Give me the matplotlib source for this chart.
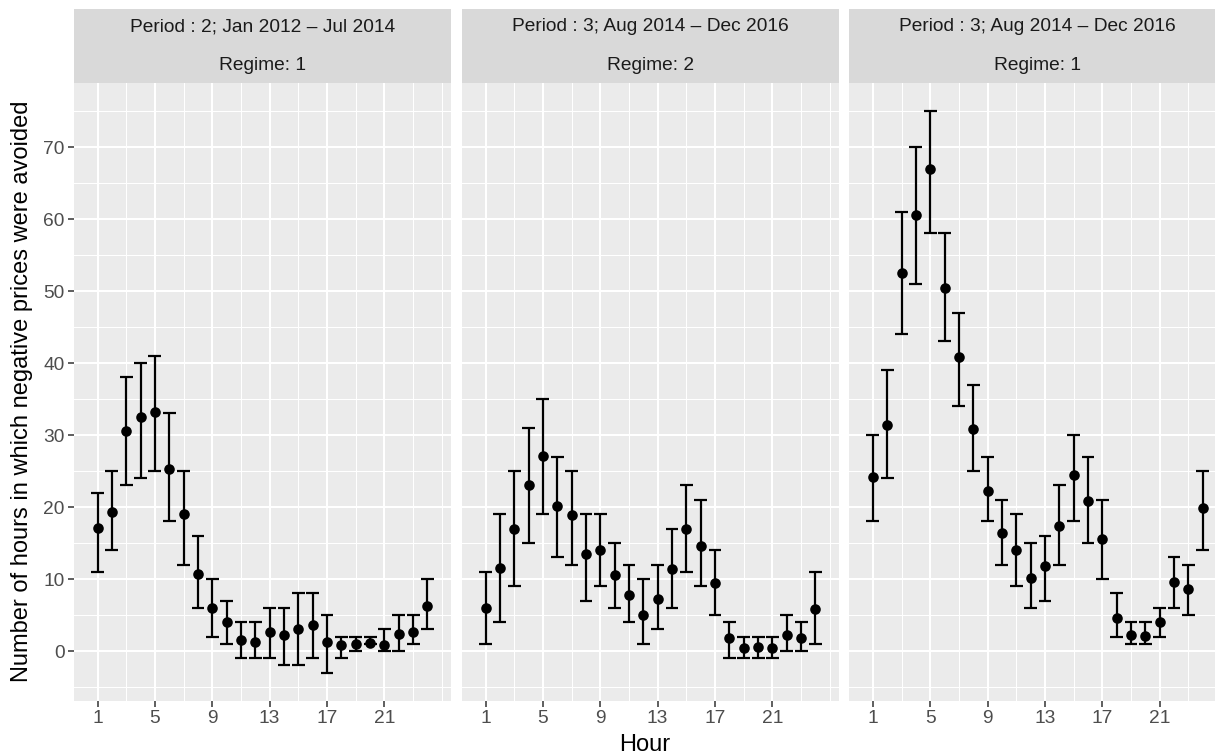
import matplotlib
matplotlib.use("Agg")
import matplotlib.pyplot as plt
import numpy as np

plt.rcParams['font.family'] = ['Liberation Sans', 'DejaVu Sans']

hours = list(range(1, 25))

# Period 2, regime 1
p1_mean = [17.1, 19.3, 30.6, 32.5, 33.2, 25.3, 19.0, 10.7, 6.0, 4.0, 1.5, 1.2,
           2.6, 2.2, 3.0, 3.6, 1.2, 0.8, 1.0, 1.1, 0.9, 2.4, 2.6, 6.2]
p1_low = [11, 14, 23, 24, 25, 18, 12, 6, 2, 1, -1, -1,
          -1, -2, -2, -1, -3, -1, 0, 1, 0, 0, 1, 3]
p1_high = [22, 25, 38, 40, 41, 33, 25, 16, 10, 7, 4, 4,
           6, 6, 8, 8, 5, 2, 2, 2, 3, 5, 5, 10]

# Period 3, regime 2
p2_mean = [6.0, 11.5, 17.0, 23.0, 27.1, 20.1, 18.9, 13.5, 14.1, 10.5, 7.8, 5.0,
           7.2, 11.4, 17.0, 14.6, 9.4, 1.8, 0.4, 0.5, 0.4, 2.2, 1.8, 5.8]
p2_low = [1, 4, 9, 15, 19, 13, 12, 7, 9, 6, 4, 1,
          3, 6, 11, 9, 5, -1, -1, -1, -1, 0, 0, 1]
p2_high = [11, 19, 25, 31, 35, 27, 25, 19, 19, 15, 12, 10,
           12, 17, 23, 21, 14, 4, 2, 2, 2, 5, 4, 11]

# Period 3, regime 1
p3_mean = [24.2, 31.4, 52.5, 60.5, 66.9, 50.4, 40.8, 30.9, 22.2, 16.4, 14.0, 10.1,
           11.8, 17.4, 24.4, 20.9, 15.6, 4.6, 2.2, 2.1, 4.1, 9.6, 8.6, 19.9]
p3_low = [18, 24, 44, 51, 58, 43, 34, 25, 18, 12, 9, 6,
          7, 12, 18, 15, 10, 2, 1, 1, 2, 6, 5, 14]
p3_high = [30, 39, 61, 70, 75, 58, 47, 37, 27, 21, 19, 15,
           16, 23, 30, 27, 21, 8, 4, 4, 6, 13, 12, 25]

strip_top = ["Period : 2; Jan 2012 \u2013 Jul 2014",
             "Period : 3; Aug 2014 \u2013 Dec 2016",
             "Period : 3; Aug 2014 \u2013 Dec 2016"]
strip_bottom = ["Regime: 1", "Regime: 2", "Regime: 1"]

panels = [(p1_mean, p1_low, p1_high),
          (p2_mean, p2_low, p2_high),
          (p3_mean, p3_low, p3_high)]

W, H = 1215, 755
fig = plt.figure(figsize=(W / 100, H / 100), dpi=100)

# panel geometry in pixels (third panel runs past the right edge, as in the original)
lefts = [74, 462, 849.3]
pw = 377
ptop, pbot = 83, 700.7
stop = 9

for i, (mean, low, high) in enumerate(panels):
    ax = fig.add_axes([lefts[i] / W, 1 - pbot / H, pw / W, (pbot - ptop) / H])
    ax.set_facecolor('#EBEBEB')
    for s in ax.spines.values():
        s.set_visible(False)
    ax.set_xlim(-0.645, 25.645)
    ax.set_ylim(-6.9, 78.9)
    ax.set_xticks([1, 5, 9, 13, 17, 21])
    ax.set_xticks([3, 7, 11, 15, 19, 23, 25], minor=True)
    ax.set_yticks(range(0, 80, 10))
    ax.set_yticks(range(-5, 80, 10), minor=True)
    ax.grid(which='major', color='white', linewidth=1.5)
    ax.grid(which='minor', color='white', linewidth=0.75)
    ax.set_axisbelow(True)
    ax.tick_params(which='major', color='#333333', length=4.3, width=1.1,
                   labelsize=13.8, labelcolor='#4D4D4D', pad=2.5)
    ax.tick_params(which='minor', length=0)
    if i > 0:
        ax.tick_params(axis='y', which='major', length=0, labelleft=False)

    x = np.array(hours)
    ax.vlines(x, low, high, color='black', linewidth=1.6, zorder=3)
    ax.hlines(low, x - 0.45, x + 0.45, color='black', linewidth=1.6, zorder=3)
    ax.hlines(high, x - 0.45, x + 0.45, color='black', linewidth=1.6, zorder=3)
    ax.scatter(x, mean, s=58, color='black', zorder=4, linewidths=0)

    sax = fig.add_axes([lefts[i] / W, 1 - ptop / H, pw / W, (ptop - stop) / H])
    sax.set_facecolor('#D9D9D9')
    sax.set_xticks([])
    sax.set_yticks([])
    for s in sax.spines.values():
        s.set_visible(False)
    sax.text(0.5, 0.757, strip_top[i], ha='center', va='center', fontsize=13.8,
             color='#1A1A1A', transform=sax.transAxes)
    sax.text(0.5, 0.235, strip_bottom[i], ha='center', va='center', fontsize=13.8,
             color='#1A1A1A', transform=sax.transAxes)

fig.text(645 / W, 1 - 745 / H, 'Hour', ha='center', va='center', fontsize=17)
fig.text(22 / W, 1 - 391.5 / H, 'Number of hours in which negative prices were avoided',
         ha='center', va='center', rotation=90, fontsize=17)

fig.savefig('out.png', dpi=100)
